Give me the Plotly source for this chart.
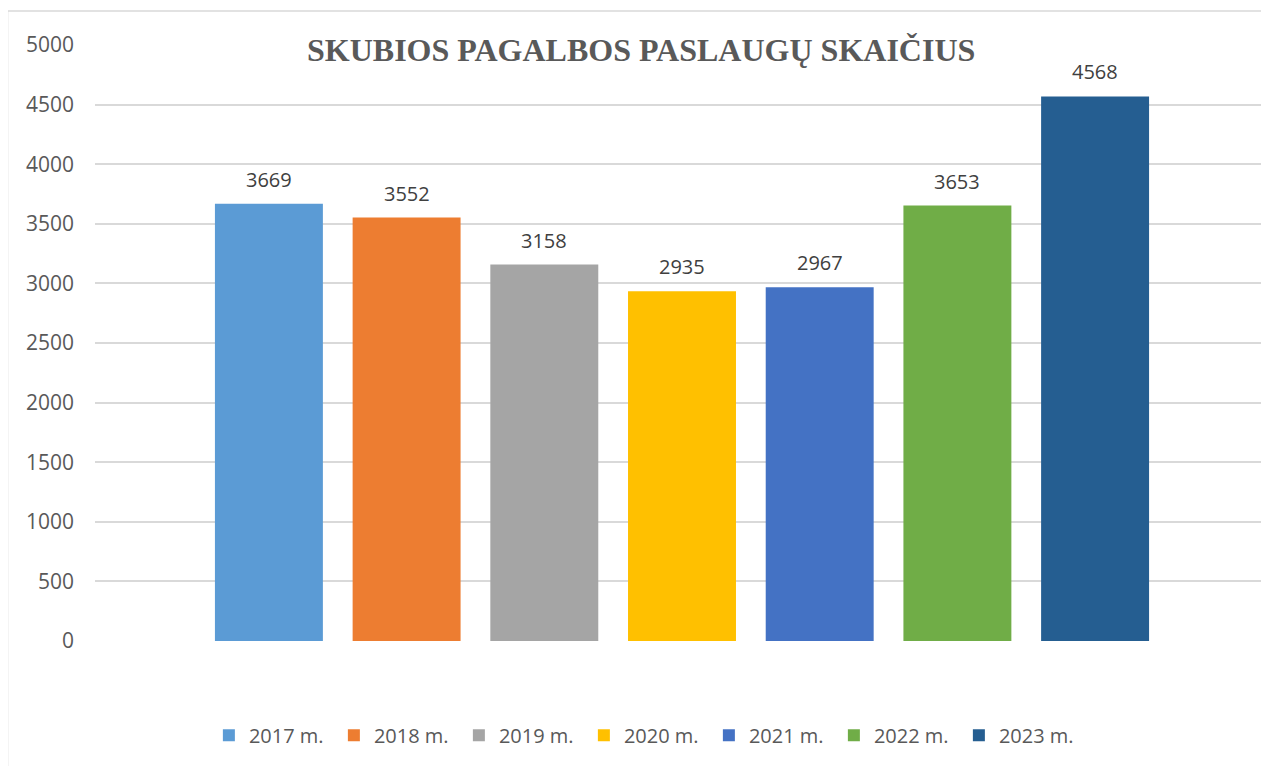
import plotly.graph_objects as go

years = ["2017 m.", "2018 m.", "2019 m.", "2020 m.", "2021 m.", "2022 m.", "2023 m."]
values = [3669, 3552, 3158, 2935, 2967, 3653, 4568]
colors = ["#5B9BD5", "#ED7D31", "#A5A5A5", "#FFC000", "#4472C4", "#70AD47", "#255E91"]
y_ticks = [0, 500, 1000, 1500, 2000, 2500, 3000, 3500, 4000, 4500, 5000]
title_text = "SKUBIOS PAGALBOS PASLAUGŲ SKAIČIUS"

FONT = "Open Sans"

fig = go.Figure()
for yr, v, c in zip(years, values, colors):
    fig.add_trace(go.Bar(
        x=[yr], y=[v], name=yr, marker=dict(color=c, line=dict(width=0)),
        width=0.784, hoverinfo="skip",
    ))
    fig.add_annotation(
        x=yr, y=v, text=str(v), showarrow=False, yanchor="bottom", yshift=9,
        font=dict(family=FONT, size=20, color="#404040"),
    )

fig.add_annotation(
    xref="paper", yref="paper", x=0.4647, y=0.9916, xanchor="center", yanchor="middle",
    text="<b>" + title_text + "</b>", showarrow=False, bgcolor="white",
    font=dict(family="Liberation Serif", size=32, color="#595959"),
)

fig.add_shape(
    type="rect", xref="paper", yref="paper", x0=-0.0745, x1=1.2, y0=-0.4, y1=1.057,
    line=dict(color="#D9D9D9", width=1.5), fillcolor="rgba(0,0,0,0)", layer="below",
)

fig.update_layout(
    width=1261, height=758,
    margin=dict(l=87, r=0, t=37, b=125),
    paper_bgcolor="white", plot_bgcolor="white",
    barmode="overlay",
    showlegend=True,
    legend=dict(
        orientation="h", x=0.097, xanchor="left", y=-0.158, yanchor="middle",
        font=dict(family=FONT, size=20, color="#595959"),
        entrywidth=80, entrywidthmode="pixels", itemclick=False, itemdoubleclick=False,
        traceorder="normal",
    ),
    xaxis=dict(
        type="category", categoryorder="array", categoryarray=years,
        range=[-1.263, 7.263], showticklabels=False, showgrid=False,
        zeroline=False, showline=False, ticks="",
    ),
    yaxis=dict(
        range=[0, 5000], tickvals=y_ticks, ticktext=[str(t) for t in y_ticks],
        showgrid=True, gridcolor="#D9D9D9", gridwidth=1.5, zeroline=False,
        showline=False, ticks="", ticklabelstandoff=20,
        tickfont=dict(family=FONT, size=21, color="#595959"),
    ),
)

fig.write_html("out.html")
